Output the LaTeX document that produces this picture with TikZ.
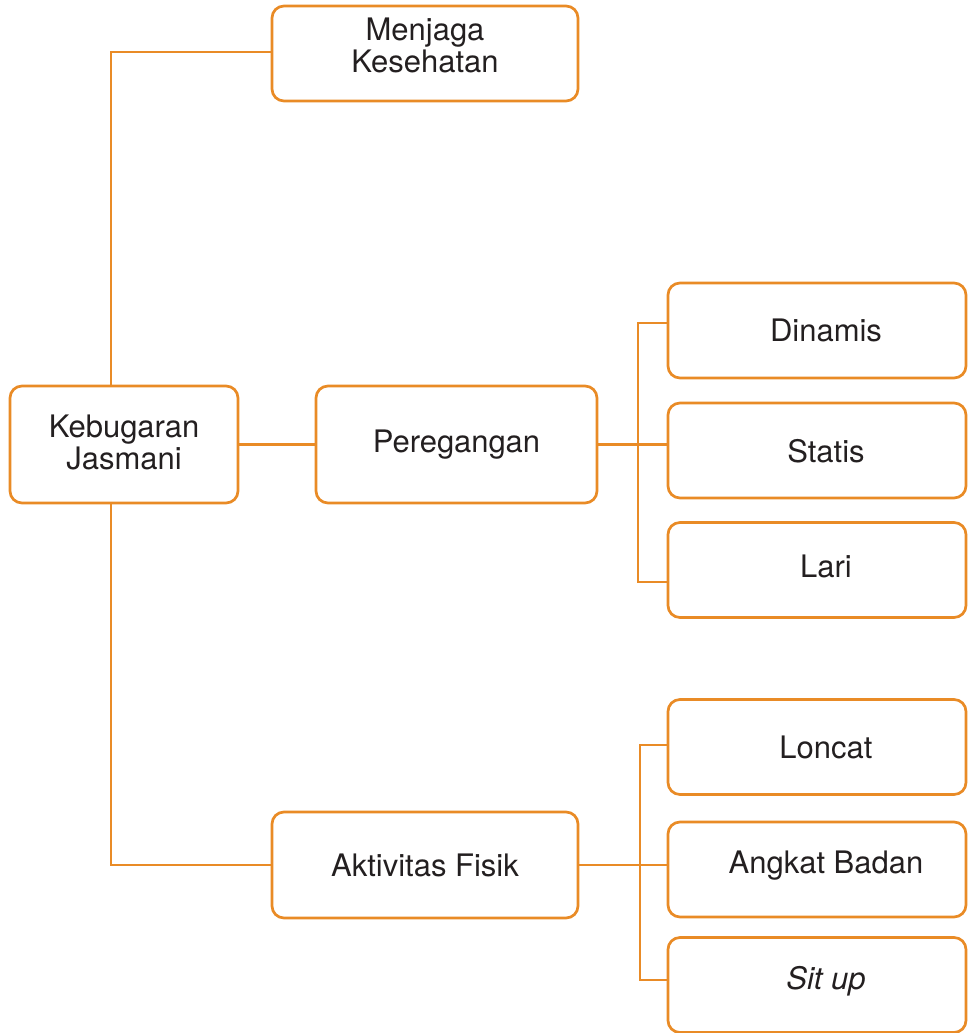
\documentclass[tikz,border=0pt]{standalone}
\usepackage{fontspec}
\setmainfont{TeX Gyre Heros}
\usetikzlibrary{positioning}
\definecolor{jingga}{HTML}{E98B26}
\definecolor{tinta}{HTML}{231F20}

\begin{document}
\begin{tikzpicture}[x=1pt,y=-1pt,kotak/.style={draw=jingga,line width=2.7pt,rounded corners=12pt,align=center,inner sep=0pt,text=tinta,font=\fontsize{31}{32}\selectfont},cabang/.style={kotak,minimum width=298pt,minimum height=95pt,execute at begin node=\hspace*{18pt}},garis/.style={draw=jingga,line width=2.7pt}]
\useasboundingbox (0,0) rectangle (967,1033);
\node[kotak,minimum width=306pt,minimum height=95pt,text depth=17pt] (jaga) at (425,53.5) {Menjaga\\Kesehatan};
\node[kotak,minimum width=228pt,minimum height=117pt,text depth=4pt] (jasmani) at (124,444.5) {Kebugaran\\Jasmani};
\node[kotak,minimum width=281pt,minimum height=117pt] (regang) at (456.5,444.5) {Peregangan};
\node[kotak,minimum width=306pt,minimum height=106pt] (aktif) at (425,865) {Aktivitas Fisik};
\foreach \nama/\y/\turun/\teks in {dinamis/330.5/0/Dinamis,statis/450.5/0/Statis,lari/570/8/Lari,loncat/747/0/Loncat,angkat/869.5/14/Angkat Badan,situp/985/14/{\itshape Sit up}}{\node[cabang,text depth=\turun pt] (\nama) at (817,\y) {\teks};}
\coordinate (atas) at (111,52);\coordinate (bawah) at (111,865);
\coordinate (k1) at (638,323);\coordinate (k2) at (638,582);
\coordinate (k3) at (640,745);\coordinate (k4) at (640,980);
\draw[garis] (jaga.west |- atas)--(atas)--(atas |- jasmani.north);
\draw[garis] (atas |- jasmani.south)--(bawah)--(aktif.west);
\draw[garis] (jasmani.east)--(jasmani.east -| regang.west);
\draw[garis] (regang.east)--(regang.east -| statis.west);
\draw[garis] (k1 -| dinamis.west)--(k1)--(k2)--(k2 -| lari.west);
\draw[garis] (aktif.east)--(aktif.east -| angkat.west);
\draw[garis] (k3 -| loncat.west)--(k3)--(k4)--(k4 -| situp.west);
\end{tikzpicture}
\end{document}
